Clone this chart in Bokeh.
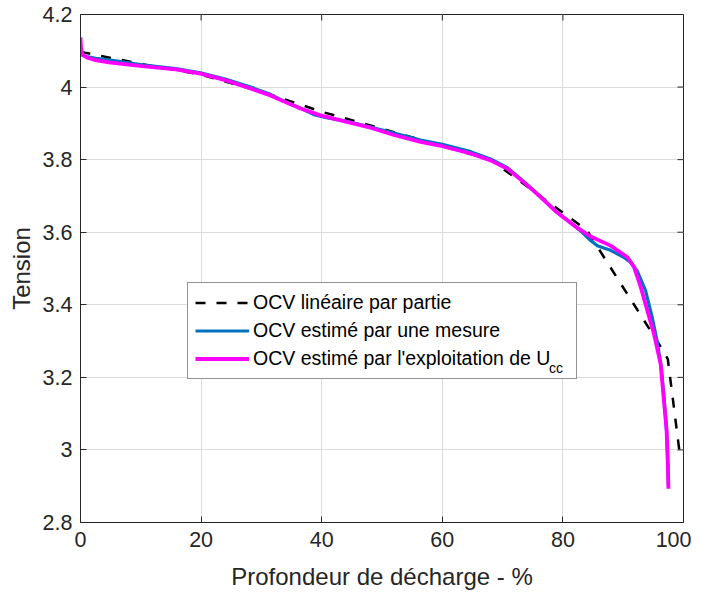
from bokeh.plotting import figure
from bokeh.models import Range1d, FixedTicker, Legend, LegendItem, CustomJSTickFormatter
from bokeh.embed import file_html
from bokeh.resources import INLINE

# ---- data ----
dod_pwl = [0, 10, 20, 30, 35, 40, 50, 68, 84, 96, 97.4, 99.3]
ocv_pwl = [4.097, 4.064, 4.034, 3.987, 3.960, 3.932, 3.885, 3.800, 3.605, 3.290, 3.250, 3.000]

dod_mes = [0, 1, 2.5, 4.7, 10.2, 15.8, 19.9, 24, 28.2, 31.5, 33.5, 35.9, 38.7, 41, 44,
           48.1, 52, 56.4, 60, 64.7, 68, 70.8, 73.5, 76.3, 79, 81.8, 83.5, 84.6, 85.7,
           87.9, 90.1, 91.2, 92.3, 93.7, 94.8, 95.6, 96.3, 96.8, 97.2, 97.4, 97.5]
ocv_mes = [4.089, 4.084, 4.079, 4.075, 4.061, 4.051, 4.039, 4.022, 4.000, 3.980, 3.963,
           3.946, 3.924, 3.915, 3.906, 3.890, 3.873, 3.854, 3.842, 3.822, 3.802, 3.778,
           3.740, 3.698, 3.655, 3.620, 3.595, 3.577, 3.563, 3.550, 3.531, 3.517, 3.494,
           3.440, 3.366, 3.302, 3.230, 3.140, 3.050, 2.960, 2.900]

dod_ucc = [0, 0.1, 0.3, 0.7, 1.1, 2.5, 4.7, 10.2, 15.8, 19.9, 24, 28.2, 31.5, 33.5, 36.5,
           39.8, 44, 48.1, 52, 56.4, 60, 64.7, 68, 70.8, 73.5, 76.3, 79, 81.8, 84.6, 87.9,
           90.7, 91.8, 92.9, 94, 95.1, 95.6, 96.2, 96.7, 97.2, 97.4, 97.5]
ocv_ucc = [4.137, 4.105, 4.092, 4.085, 4.081, 4.074, 4.068, 4.058, 4.049, 4.037, 4.019,
           3.996, 3.977, 3.962, 3.941, 3.922, 3.905, 3.888, 3.868, 3.849, 3.837, 3.817,
           3.798, 3.775, 3.738, 3.697, 3.655, 3.619, 3.588, 3.563, 3.531, 3.504, 3.449,
           3.384, 3.320, 3.283, 3.237, 3.145, 3.054, 2.962, 2.893]

x_ticks = [0, 20, 40, 60, 80, 100]
y_ticks = [2.8, 3.0, 3.2, 3.4, 3.6, 3.8, 4.0, 4.2]

labels = ["OCV linéaire par partie", "OCV estimé par une mesure",
          "OCV estimé par l'exploitation de U"]
subscript = "cc"

FONT = "Liberation Sans"
AX = "#262626"
TICK_FS = "21.5px"
LAB_FS = "24px"
LEG_FS = "19.5px"

XMIN, XMAX, YMIN, YMAX = 0, 100, 2.8, 4.2

p = figure(frame_width=603, frame_height=508,
           x_range=Range1d(XMIN, XMAX), y_range=Range1d(YMIN, YMAX),
           output_backend="svg", toolbar_location=None,
           min_border_left=80, min_border_right=8, min_border_top=14, min_border_bottom=70,
           x_axis_label="Profondeur de décharge - %", y_axis_label="Tension")
p.background_fill_color = "white"
p.border_fill_color = "white"
p.outline_line_color = AX
p.outline_line_width = 1

fmt = CustomJSTickFormatter(code="return String(Math.round(tick*10)/10);")

for ax, ticks in ((p.xaxis[0], x_ticks), (p.yaxis[0], y_ticks)):
    ax.ticker = FixedTicker(ticks=ticks)
    ax.formatter = fmt
    ax.major_tick_in = 6
    ax.major_tick_out = 0
    ax.minor_tick_line_color = None
    ax.axis_line_color = AX
    ax.major_tick_line_color = AX
    ax.major_label_text_font = FONT
    ax.major_label_text_font_size = TICK_FS
    ax.major_label_text_color = AX
    ax.axis_label_text_font = FONT
    ax.axis_label_text_font_size = LAB_FS
    ax.axis_label_text_font_style = "normal"
    ax.axis_label_text_color = AX
p.xaxis[0].major_label_standoff = 9
p.xaxis[0].axis_label_standoff = 13
p.yaxis[0].major_label_standoff = 8
p.yaxis[0].axis_label_standoff = 5

p.xgrid.ticker = FixedTicker(ticks=x_ticks)
p.ygrid.ticker = FixedTicker(ticks=y_ticks)
p.grid.grid_line_color = "#dcdcdc"
p.grid.grid_line_width = 1

# mirrored inward ticks on the top and right edges of the box
tx = (XMAX - XMIN) * 6 / 603
ty = (YMAX - YMIN) * 6 / 508
p.segment(x0=x_ticks, y0=[YMAX] * len(x_ticks), x1=x_ticks, y1=[YMAX - ty] * len(x_ticks),
          line_color=AX, line_width=1)
p.segment(x0=[XMAX] * len(y_ticks), y0=y_ticks, x1=[XMAX - tx] * len(y_ticks), y1=y_ticks,
          line_color=AX, line_width=1)

r_pwl = p.line(dod_pwl, ocv_pwl, line_color="black", line_width=2.5, line_dash="10 11")
r_mes = p.line(dod_mes, ocv_mes, line_color="#0072BD", line_width=3.2)
r_ucc = p.line(dod_ucc, ocv_ucc, line_color="#FF00FF", line_width=3.8)

legend = Legend(items=[LegendItem(label=labels[0], renderers=[r_pwl]),
                       LegendItem(label=labels[1], renderers=[r_mes]),
                       LegendItem(label=labels[2], renderers=[r_ucc])],
                location=(107, 143), orientation="vertical",
                border_line_color=AX, border_line_width=1,
                background_fill_color="white", background_fill_alpha=1.0,
                label_text_font=FONT, label_text_font_size=LEG_FS,
                label_text_color="black",
                glyph_width=54, glyph_height=25, label_height=25, label_width=316,
                label_standoff=4, padding=7, spacing=3, margin=0)
p.add_layout(legend, "center")

# subscript "cc" of U_cc: a second, frameless legend drawn on top of the first
sub_legend = Legend(items=[LegendItem(label=subscript, renderers=[r_ucc])],
                    location=(469, 146), orientation="vertical",
                    border_line_color=None, background_fill_alpha=0.0,
                    label_text_font=FONT, label_text_font_size="14px",
                    label_text_color="black",
                    glyph_width=0, glyph_height=16, label_height=16, label_width=10,
                    label_standoff=0, padding=0, spacing=0, margin=0)
p.add_layout(sub_legend, "center")

open("out.html", "w").write(file_html(p, INLINE))
